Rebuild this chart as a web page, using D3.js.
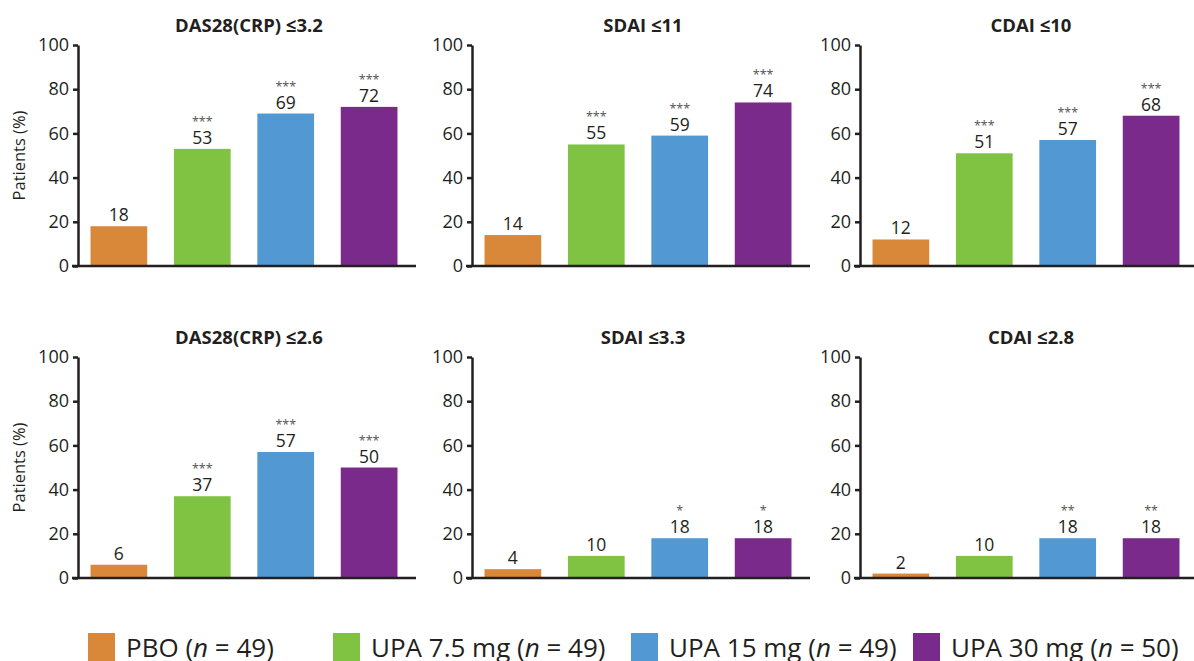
<!DOCTYPE html>
<html><head><meta charset="utf-8">
<script src="https://cdn.jsdelivr.net/npm/d3@7"></script>
<style>
html,body{margin:0;padding:0;background:#fff;}
svg{display:block;font-family:"Open Sans",sans-serif;}
</style></head>
<body><svg id="c" width="1194" height="661"></svg>
<script>
const groups = ["PBO", "UPA 7.5 mg", "UPA 15 mg", "UPA 30 mg"];
const groupN = [49, 49, 49, 50];
const colors = ["#D9883A", "#80C342", "#5299D3", "#7A2A8A"];
const titles = ["DAS28(CRP) ≤3.2", "SDAI ≤11", "CDAI ≤10", "DAS28(CRP) ≤2.6", "SDAI ≤3.3", "CDAI ≤2.8"];
const values = [
  [18, 53, 69, 72],
  [14, 55, 59, 74],
  [12, 51, 57, 68],
  [6, 37, 57, 50],
  [4, 10, 18, 18],
  [2, 10, 18, 18]
];
const sig = [
  ["", "***", "***", "***"],
  ["", "***", "***", "***"],
  ["", "***", "***", "***"],
  ["", "***", "***", "***"],
  ["", "", "*", "*"],
  ["", "", "**", "**"]
];
const yTicks = [0, 20, 40, 60, 80, 100];

const svg = d3.select("#c");
const axisX = [78, 472, 860];
const rowTop = [45, 357];
const plotH = 221, plotW = 332;
const ink = "#231F20";

titles.forEach((t, i) => {
  const col = i % 3, row = Math.floor(i / 3);
  const g = svg.append("g").attr("transform", `translate(${axisX[col]},${rowTop[row]})`);
  const y = d3.scaleLinear().domain([0, 100]).range([plotH, 0]);
  const x = d3.scaleBand().domain(groups).range([0, plotW]).paddingInner(0.32).paddingOuter(0.15);

  // bars
  g.selectAll("rect").data(values[i]).join("rect")
    .attr("x", (d, j) => x(groups[j]))
    .attr("width", x.bandwidth())
    .attr("y", d => y(d))
    .attr("height", d => y(0) - y(d))
    .attr("fill", (d, j) => colors[j]);

  // value labels
  g.selectAll("text.val").data(values[i]).join("text").attr("class", "val")
    .attr("x", (d, j) => x(groups[j]) + x.bandwidth() / 2)
    .attr("y", d => y(d) - 5)
    .attr("text-anchor", "middle")
    .attr("font-size", 17.5)
    .attr("fill", ink)
    .text(d => d);

  // significance
  g.selectAll("text.sig").data(sig[i]).join("text").attr("class", "sig")
    .attr("x", (d, j) => x(groups[j]) + x.bandwidth() / 2)
    .attr("y", (d, j) => y(values[i][j]) - 23)
    .attr("text-anchor", "middle")
    .attr("font-size", 12.5)
    .attr("fill", "#555")
    .text(d => d);

  // y axis
  const ya = g.append("g").call(d3.axisLeft(y).tickValues(yTicks).tickSize(5).tickSizeOuter(0).tickPadding(4));
  ya.select(".domain").attr("stroke", ink).attr("stroke-width", 2.5);
  ya.selectAll(".tick line").attr("stroke", ink).attr("stroke-width", 2.5);
  ya.selectAll(".tick text").attr("font-size", 18).attr("fill", ink).attr("font-family", "Open Sans, sans-serif");

  // x axis baseline
  const xa = g.append("g").attr("transform", `translate(0,${plotH})`)
    .call(d3.axisBottom(x).tickSize(0).tickFormat(""));
  xa.select(".domain").attr("d", `M-6,0H${plotW + 6}`).attr("stroke", ink).attr("stroke-width", 2.5);

  // title
  g.append("text")
    .attr("x", plotW / 2 + 5)
    .attr("y", -13)
    .attr("text-anchor", "middle")
    .attr("font-size", 18.5)
    .attr("font-weight", "bold")
    .attr("fill", ink)
    .text(t);

  if (col === 0) {
    g.append("text")
      .attr("transform", `translate(${-53},${plotH / 2}) rotate(-90)`)
      .attr("text-anchor", "middle")
      .attr("font-size", 16.5)
      .attr("fill", ink)
      .text("Patients (%)");
  }
});

// legend
const legX = [88, 333, 631, 913];
const leg = svg.append("g");
groups.forEach((gname, j) => {
  const lg = leg.append("g").attr("transform", `translate(${legX[j]},633)`);
  lg.append("rect").attr("width", 27).attr("height", 30).attr("fill", colors[j]);
  const tx = lg.append("text").attr("x", 38).attr("y", 24).attr("font-size", 26).attr("fill", ink);
  tx.append("tspan").text(gname + " (");
  tx.append("tspan").attr("font-style", "italic").text("n");
  tx.append("tspan").text(" = " + groupN[j] + ")");
});
</script></body></html>
